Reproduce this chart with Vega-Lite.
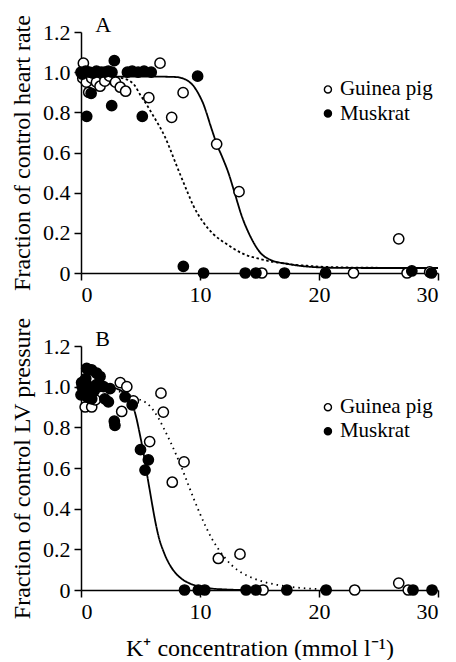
{
  "$schema": "https://vega.github.io/schema/vega-lite/v6.json",
  "padding": {"left": 10, "top": 14, "right": 0, "bottom": 0},
  "background": "white",
  "spacing": 73,
  "bounds": "flush",
  "config": {
    "view": {"stroke": null},
    "font": "Liberation Serif",
    "axis": {
      "grid": false,
      "domainColor": "black",
      "domainWidth": 1.5,
      "tickColor": "black",
      "tickWidth": 1.5,
      "tickSize": 7,
      "labelColor": "black",
      "labelFont": "Liberation Serif",
      "labelFontSize": 22,
      "labelPadding": 4,
      "titleColor": "black",
      "titleFont": "Liberation Serif",
      "titleFontSize": 24,
      "titleFontWeight": "normal"
    }
  },
  "resolve": {"scale": {"fill": "independent", "strokeDash": "independent"}},
  "datasets": {
    "a_pts": [
      {"species": "Guinea pig", "k": 0.2, "frac": 1.045},
      {"species": "Guinea pig", "k": 6.64, "frac": 1.045},
      {"species": "Guinea pig", "k": 0.15, "frac": 0.97},
      {"species": "Guinea pig", "k": 0.45, "frac": 0.95},
      {"species": "Guinea pig", "k": 0.9, "frac": 0.97},
      {"species": "Guinea pig", "k": 1.3, "frac": 0.95},
      {"species": "Guinea pig", "k": 1.6, "frac": 0.93},
      {"species": "Guinea pig", "k": 2.0, "frac": 0.955},
      {"species": "Guinea pig", "k": 2.4, "frac": 0.98},
      {"species": "Guinea pig", "k": 2.9, "frac": 0.95},
      {"species": "Guinea pig", "k": 3.3, "frac": 0.925},
      {"species": "Guinea pig", "k": 3.75, "frac": 0.905},
      {"species": "Guinea pig", "k": 0.65, "frac": 0.9},
      {"species": "Guinea pig", "k": 5.7, "frac": 0.873},
      {"species": "Guinea pig", "k": 8.58, "frac": 0.898},
      {"species": "Guinea pig", "k": 7.62, "frac": 0.775},
      {"species": "Guinea pig", "k": 11.4, "frac": 0.642},
      {"species": "Guinea pig", "k": 13.28, "frac": 0.405},
      {"species": "Guinea pig", "k": 15.2, "frac": 0.0},
      {"species": "Guinea pig", "k": 22.9, "frac": 0.0},
      {"species": "Guinea pig", "k": 26.7, "frac": 0.17},
      {"species": "Guinea pig", "k": 27.4, "frac": 0.0},
      {"species": "Guinea pig", "k": 29.3, "frac": 0.005},
      {"species": "Muskrat", "k": 0.0, "frac": 1.0},
      {"species": "Muskrat", "k": 0.1, "frac": 0.99},
      {"species": "Muskrat", "k": 0.4, "frac": 1.005},
      {"species": "Muskrat", "k": 0.7, "frac": 1.0},
      {"species": "Muskrat", "k": 1.0, "frac": 0.995},
      {"species": "Muskrat", "k": 1.3, "frac": 1.005},
      {"species": "Muskrat", "k": 1.7, "frac": 1.0},
      {"species": "Muskrat", "k": 2.0, "frac": 1.0},
      {"species": "Muskrat", "k": 2.3, "frac": 1.005},
      {"species": "Muskrat", "k": 2.6, "frac": 1.0},
      {"species": "Muskrat", "k": 3.9, "frac": 1.0},
      {"species": "Muskrat", "k": 4.3, "frac": 1.005},
      {"species": "Muskrat", "k": 4.8, "frac": 1.0},
      {"species": "Muskrat", "k": 5.3, "frac": 1.005},
      {"species": "Muskrat", "k": 5.9, "frac": 1.0},
      {"species": "Muskrat", "k": 2.8, "frac": 1.057},
      {"species": "Muskrat", "k": 9.8, "frac": 0.98},
      {"species": "Muskrat", "k": 0.85, "frac": 0.895},
      {"species": "Muskrat", "k": 2.58, "frac": 0.833},
      {"species": "Muskrat", "k": 0.48, "frac": 0.78},
      {"species": "Muskrat", "k": 5.15, "frac": 0.78},
      {"species": "Muskrat", "k": 8.6, "frac": 0.033},
      {"species": "Muskrat", "k": 10.3, "frac": 0.0},
      {"species": "Muskrat", "k": 13.8, "frac": 0.0},
      {"species": "Muskrat", "k": 14.7, "frac": 0.0},
      {"species": "Muskrat", "k": 17.1, "frac": 0.0},
      {"species": "Muskrat", "k": 20.55, "frac": 0.0},
      {"species": "Muskrat", "k": 27.8, "frac": 0.01},
      {"species": "Muskrat", "k": 29.45, "frac": 0.0}
    ],
    "a_curve": [
      {"fit": "Guinea pig", "k": 0, "frac": 0.978},
      {"fit": "Guinea pig", "k": 3, "frac": 0.978},
      {"fit": "Guinea pig", "k": 6, "frac": 0.978},
      {"fit": "Guinea pig", "k": 7.9, "frac": 0.976},
      {"fit": "Guinea pig", "k": 8.5, "frac": 0.97},
      {"fit": "Guinea pig", "k": 9.0, "frac": 0.956},
      {"fit": "Guinea pig", "k": 9.4, "frac": 0.935},
      {"fit": "Guinea pig", "k": 9.72, "frac": 0.908},
      {"fit": "Guinea pig", "k": 10.0, "frac": 0.878},
      {"fit": "Guinea pig", "k": 10.28, "frac": 0.842},
      {"fit": "Guinea pig", "k": 10.56, "frac": 0.795},
      {"fit": "Guinea pig", "k": 10.84, "frac": 0.742},
      {"fit": "Guinea pig", "k": 11.1, "frac": 0.695},
      {"fit": "Guinea pig", "k": 11.4, "frac": 0.642},
      {"fit": "Guinea pig", "k": 11.82, "frac": 0.584},
      {"fit": "Guinea pig", "k": 12.38, "frac": 0.5},
      {"fit": "Guinea pig", "k": 12.94, "frac": 0.393},
      {"fit": "Guinea pig", "k": 13.5, "frac": 0.285},
      {"fit": "Guinea pig", "k": 14.2, "frac": 0.186},
      {"fit": "Guinea pig", "k": 15.04, "frac": 0.103},
      {"fit": "Guinea pig", "k": 15.9, "frac": 0.066},
      {"fit": "Guinea pig", "k": 17.4, "frac": 0.045},
      {"fit": "Guinea pig", "k": 18.5, "frac": 0.035},
      {"fit": "Guinea pig", "k": 19.7, "frac": 0.029},
      {"fit": "Guinea pig", "k": 21, "frac": 0.026},
      {"fit": "Guinea pig", "k": 24, "frac": 0.025},
      {"fit": "Guinea pig", "k": 30, "frac": 0.025},
      {"fit": "Muskrat", "k": 0, "frac": 0.98},
      {"fit": "Muskrat", "k": 2, "frac": 0.98},
      {"fit": "Muskrat", "k": 3, "frac": 0.975},
      {"fit": "Muskrat", "k": 3.6, "frac": 0.968},
      {"fit": "Muskrat", "k": 4.0, "frac": 0.96},
      {"fit": "Muskrat", "k": 4.5, "frac": 0.935},
      {"fit": "Muskrat", "k": 5.0, "frac": 0.885},
      {"fit": "Muskrat", "k": 5.5, "frac": 0.84},
      {"fit": "Muskrat", "k": 6.0, "frac": 0.79},
      {"fit": "Muskrat", "k": 6.5, "frac": 0.74},
      {"fit": "Muskrat", "k": 7.0, "frac": 0.685},
      {"fit": "Muskrat", "k": 7.5, "frac": 0.615},
      {"fit": "Muskrat", "k": 8.0, "frac": 0.54},
      {"fit": "Muskrat", "k": 8.6, "frac": 0.452},
      {"fit": "Muskrat", "k": 9.0, "frac": 0.395},
      {"fit": "Muskrat", "k": 9.44, "frac": 0.335},
      {"fit": "Muskrat", "k": 10.28, "frac": 0.252},
      {"fit": "Muskrat", "k": 11.12, "frac": 0.194},
      {"fit": "Muskrat", "k": 12.24, "frac": 0.144},
      {"fit": "Muskrat", "k": 13.64, "frac": 0.095},
      {"fit": "Muskrat", "k": 15.04, "frac": 0.07},
      {"fit": "Muskrat", "k": 15.9, "frac": 0.058},
      {"fit": "Muskrat", "k": 17, "frac": 0.048},
      {"fit": "Muskrat", "k": 18, "frac": 0.041},
      {"fit": "Muskrat", "k": 19, "frac": 0.036},
      {"fit": "Muskrat", "k": 20, "frac": 0.032},
      {"fit": "Muskrat", "k": 22, "frac": 0.028},
      {"fit": "Muskrat", "k": 25, "frac": 0.026},
      {"fit": "Muskrat", "k": 30, "frac": 0.025}
    ],
    "b_pts": [
      {"species": "Guinea pig", "k": 0.35, "frac": 0.9},
      {"species": "Guinea pig", "k": 0.9, "frac": 0.9},
      {"species": "Guinea pig", "k": 1.2, "frac": 0.935},
      {"species": "Guinea pig", "k": 0.2, "frac": 0.98},
      {"species": "Guinea pig", "k": 1.5, "frac": 1.0},
      {"species": "Guinea pig", "k": 3.3, "frac": 1.02},
      {"species": "Guinea pig", "k": 3.85, "frac": 1.0},
      {"species": "Guinea pig", "k": 4.4, "frac": 0.93},
      {"species": "Guinea pig", "k": 3.42, "frac": 0.878},
      {"species": "Guinea pig", "k": 6.72, "frac": 0.968},
      {"species": "Guinea pig", "k": 6.92, "frac": 0.875},
      {"species": "Guinea pig", "k": 5.77, "frac": 0.73},
      {"species": "Guinea pig", "k": 8.66, "frac": 0.63},
      {"species": "Guinea pig", "k": 7.67, "frac": 0.53},
      {"species": "Guinea pig", "k": 11.54, "frac": 0.155},
      {"species": "Guinea pig", "k": 13.36, "frac": 0.176},
      {"species": "Guinea pig", "k": 15.3, "frac": 0.0},
      {"species": "Guinea pig", "k": 23.0, "frac": 0.0},
      {"species": "Guinea pig", "k": 26.7, "frac": 0.034},
      {"species": "Guinea pig", "k": 27.5, "frac": 0.0},
      {"species": "Muskrat", "k": 0.48, "frac": 1.09},
      {"species": "Muskrat", "k": 0.9, "frac": 1.082},
      {"species": "Muskrat", "k": 1.32, "frac": 1.066},
      {"species": "Muskrat", "k": 1.6, "frac": 1.05},
      {"species": "Muskrat", "k": 0.1, "frac": 1.0},
      {"species": "Muskrat", "k": 0.2, "frac": 0.97},
      {"species": "Muskrat", "k": 0.3, "frac": 1.03},
      {"species": "Muskrat", "k": 0.5, "frac": 0.95},
      {"species": "Muskrat", "k": 0.7, "frac": 1.0},
      {"species": "Muskrat", "k": 0.9, "frac": 0.94},
      {"species": "Muskrat", "k": 1.1, "frac": 0.98},
      {"species": "Muskrat", "k": 1.3, "frac": 1.01},
      {"species": "Muskrat", "k": 0.4, "frac": 1.04},
      {"species": "Muskrat", "k": 0.0, "frac": 0.96},
      {"species": "Muskrat", "k": 0.05, "frac": 1.02},
      {"species": "Muskrat", "k": 1.9, "frac": 1.0},
      {"species": "Muskrat", "k": 2.44, "frac": 0.99},
      {"species": "Muskrat", "k": 2.0, "frac": 0.94},
      {"species": "Muskrat", "k": 2.3, "frac": 0.925},
      {"species": "Muskrat", "k": 3.7, "frac": 0.95},
      {"species": "Muskrat", "k": 4.3, "frac": 0.91},
      {"species": "Muskrat", "k": 2.8, "frac": 0.83},
      {"species": "Muskrat", "k": 2.85, "frac": 0.81},
      {"species": "Muskrat", "k": 5.0, "frac": 0.69},
      {"species": "Muskrat", "k": 5.38, "frac": 0.59},
      {"species": "Muskrat", "k": 5.66, "frac": 0.64},
      {"species": "Muskrat", "k": 8.7, "frac": 0.0},
      {"species": "Muskrat", "k": 9.86, "frac": 0.0},
      {"species": "Muskrat", "k": 10.4, "frac": 0.0},
      {"species": "Muskrat", "k": 13.87, "frac": 0.0},
      {"species": "Muskrat", "k": 14.7, "frac": 0.0},
      {"species": "Muskrat", "k": 17.3, "frac": 0.0},
      {"species": "Muskrat", "k": 20.6, "frac": 0.0},
      {"species": "Muskrat", "k": 27.9, "frac": 0.0},
      {"species": "Muskrat", "k": 29.5, "frac": 0.0}
    ],
    "b_curve": [
      {"fit": "Muskrat", "k": 0, "frac": 1.0},
      {"fit": "Muskrat", "k": 1, "frac": 1.0},
      {"fit": "Muskrat", "k": 2, "frac": 0.998},
      {"fit": "Muskrat", "k": 2.5, "frac": 0.995},
      {"fit": "Muskrat", "k": 3, "frac": 0.99},
      {"fit": "Muskrat", "k": 3.5, "frac": 0.975},
      {"fit": "Muskrat", "k": 4, "frac": 0.945},
      {"fit": "Muskrat", "k": 4.5, "frac": 0.88},
      {"fit": "Muskrat", "k": 5, "frac": 0.75},
      {"fit": "Muskrat", "k": 5.25, "frac": 0.675},
      {"fit": "Muskrat", "k": 5.5, "frac": 0.585},
      {"fit": "Muskrat", "k": 5.75, "frac": 0.5},
      {"fit": "Muskrat", "k": 6, "frac": 0.415},
      {"fit": "Muskrat", "k": 6.25, "frac": 0.335},
      {"fit": "Muskrat", "k": 6.5, "frac": 0.268},
      {"fit": "Muskrat", "k": 7, "frac": 0.18},
      {"fit": "Muskrat", "k": 7.5, "frac": 0.12},
      {"fit": "Muskrat", "k": 8, "frac": 0.08},
      {"fit": "Muskrat", "k": 8.5, "frac": 0.053},
      {"fit": "Muskrat", "k": 9, "frac": 0.036},
      {"fit": "Muskrat", "k": 9.5, "frac": 0.024},
      {"fit": "Muskrat", "k": 10, "frac": 0.016},
      {"fit": "Muskrat", "k": 11, "frac": 0.007},
      {"fit": "Muskrat", "k": 12, "frac": 0.003},
      {"fit": "Muskrat", "k": 14, "frac": 0.0},
      {"fit": "Guinea pig", "k": 0, "frac": 1.0},
      {"fit": "Guinea pig", "k": 1, "frac": 1.0},
      {"fit": "Guinea pig", "k": 2, "frac": 0.995},
      {"fit": "Guinea pig", "k": 3, "frac": 0.98},
      {"fit": "Guinea pig", "k": 4, "frac": 0.96},
      {"fit": "Guinea pig", "k": 4.8, "frac": 0.94},
      {"fit": "Guinea pig", "k": 5.6, "frac": 0.915},
      {"fit": "Guinea pig", "k": 6.05, "frac": 0.886},
      {"fit": "Guinea pig", "k": 6.5, "frac": 0.846},
      {"fit": "Guinea pig", "k": 7, "frac": 0.79},
      {"fit": "Guinea pig", "k": 7.5, "frac": 0.73},
      {"fit": "Guinea pig", "k": 8, "frac": 0.665},
      {"fit": "Guinea pig", "k": 8.5, "frac": 0.595},
      {"fit": "Guinea pig", "k": 9, "frac": 0.52},
      {"fit": "Guinea pig", "k": 9.5, "frac": 0.445},
      {"fit": "Guinea pig", "k": 10, "frac": 0.375},
      {"fit": "Guinea pig", "k": 10.5, "frac": 0.31},
      {"fit": "Guinea pig", "k": 11, "frac": 0.252},
      {"fit": "Guinea pig", "k": 11.5, "frac": 0.205},
      {"fit": "Guinea pig", "k": 12, "frac": 0.165},
      {"fit": "Guinea pig", "k": 12.66, "frac": 0.122},
      {"fit": "Guinea pig", "k": 13.5, "frac": 0.085},
      {"fit": "Guinea pig", "k": 14.6, "frac": 0.055},
      {"fit": "Guinea pig", "k": 15.5, "frac": 0.038},
      {"fit": "Guinea pig", "k": 16.5, "frac": 0.025},
      {"fit": "Guinea pig", "k": 17.5, "frac": 0.016},
      {"fit": "Guinea pig", "k": 18.5, "frac": 0.01},
      {"fit": "Guinea pig", "k": 19.5, "frac": 0.006},
      {"fit": "Guinea pig", "k": 21, "frac": 0.002}
    ],
    "a_key": [
      {"species": "Guinea pig", "k": 20.75, "frac": 0.914},
      {"species": "Muskrat", "k": 20.75, "frac": 0.794}
    ],
    "b_key": [
      {"species": "Guinea pig", "k": 20.75, "frac": 0.899},
      {"species": "Muskrat", "k": 20.75, "frac": 0.781}
    ],
    "labels_a": [{"label": "A", "k": 1.2, "frac": 1.2}],
    "labels_b": [{"label": "B", "k": 1.2, "frac": 1.2}]
  },
  "vconcat": [
    {
      "width": 357,
      "height": 241,
      "layer": [
        {
          "data": {"name": "a_curve"},
          "mark": {"type": "line", "color": "black", "strokeWidth": 1.8, "interpolate": "monotone"},
          "encoding": {
            "x": {"field": "k", "type": "quantitative", "scale": {"domain": [0, 30], "nice": false},
                  "axis": {"values": [0, 10, 20, 30], "title": null}},
            "y": {"field": "frac", "type": "quantitative", "scale": {"domain": [0, 1.2], "nice": false},
                  "axis": {"values": [0, 0.2, 0.4, 0.6, 0.8, 1.0, 1.2],
                           "labelExpr": "datum.value == 0 ? '0' : format(datum.value, '.1f')",
                           "title": "Fraction of control heart rate", "titlePadding": 8}},
            "strokeDash": {"field": "fit", "type": "nominal",
                           "scale": {"domain": ["Guinea pig", "Muskrat"], "range": [[1, 0], [2.5, 2.5]]},
                           "legend": null}
          }
        },
        {
          "data": {"name": "a_pts"},
          "mark": {"type": "point", "filled": true, "size": 105, "stroke": "black", "strokeWidth": 1.5, "opacity": 1},
          "encoding": {
            "x": {"field": "k", "type": "quantitative"},
            "y": {"field": "frac", "type": "quantitative"},
            "fill": {"field": "species", "type": "nominal",
                     "scale": {"domain": ["Guinea pig", "Muskrat"], "range": ["white", "black"]},
                     "legend": null}
          }
        },
        {
          "data": {"name": "a_key"},
          "mark": {"type": "point", "filled": true, "size": 50, "stroke": "black", "strokeWidth": 1.4, "opacity": 1},
          "encoding": {
            "x": {"field": "k", "type": "quantitative"},
            "y": {"field": "frac", "type": "quantitative"},
            "fill": {"field": "species", "type": "nominal", "legend": null}
          }
        },
        {
          "data": {"name": "a_key"},
          "mark": {"type": "text", "align": "left", "baseline": "middle", "dx": 12, "fontSize": 21, "font": "Liberation Serif", "color": "black"},
          "encoding": {
            "x": {"field": "k", "type": "quantitative"},
            "y": {"field": "frac", "type": "quantitative"},
            "text": {"field": "species"}
          }
        },
        {
          "data": {"name": "labels_a"},
          "mark": {"type": "text", "align": "left", "baseline": "alphabetic", "fontSize": 22, "font": "Liberation Serif", "color": "black"},
          "encoding": {
            "x": {"field": "k", "type": "quantitative"},
            "y": {"field": "frac", "type": "quantitative"},
            "text": {"field": "label"}
          }
        }
      ]
    },
    {
      "width": 357,
      "height": 244,
      "layer": [
        {
          "data": {"name": "b_curve"},
          "mark": {"type": "line", "color": "black", "strokeWidth": 1.8, "interpolate": "monotone"},
          "encoding": {
            "x": {"field": "k", "type": "quantitative", "scale": {"domain": [0, 30], "nice": false},
                  "axis": {"values": [0, 10, 20, 30], "title": "K⁺ concentration (mmol l⁻¹)", "titlePadding": 14}},
            "y": {"field": "frac", "type": "quantitative", "scale": {"domain": [0, 1.2], "nice": false},
                  "axis": {"values": [0, 0.2, 0.4, 0.6, 0.8, 1.0, 1.2],
                           "labelExpr": "datum.value == 0 ? '0' : format(datum.value, '.1f')",
                           "title": "Fraction of control LV pressure", "titlePadding": 8}},
            "strokeDash": {"field": "fit", "type": "nominal",
                           "scale": {"domain": ["Guinea pig", "Muskrat"], "range": [[1.5, 4], [1, 0]]},
                           "legend": null}
          }
        },
        {
          "data": {"name": "b_pts"},
          "mark": {"type": "point", "filled": true, "size": 105, "stroke": "black", "strokeWidth": 1.5, "opacity": 1},
          "encoding": {
            "x": {"field": "k", "type": "quantitative"},
            "y": {"field": "frac", "type": "quantitative"},
            "fill": {"field": "species", "type": "nominal",
                     "scale": {"domain": ["Guinea pig", "Muskrat"], "range": ["white", "black"]},
                     "legend": null}
          }
        },
        {
          "data": {"name": "b_key"},
          "mark": {"type": "point", "filled": true, "size": 50, "stroke": "black", "strokeWidth": 1.4, "opacity": 1},
          "encoding": {
            "x": {"field": "k", "type": "quantitative"},
            "y": {"field": "frac", "type": "quantitative"},
            "fill": {"field": "species", "type": "nominal", "legend": null}
          }
        },
        {
          "data": {"name": "b_key"},
          "mark": {"type": "text", "align": "left", "baseline": "middle", "dx": 12, "fontSize": 21, "font": "Liberation Serif", "color": "black"},
          "encoding": {
            "x": {"field": "k", "type": "quantitative"},
            "y": {"field": "frac", "type": "quantitative"},
            "text": {"field": "species"}
          }
        },
        {
          "data": {"name": "labels_b"},
          "mark": {"type": "text", "align": "left", "baseline": "alphabetic", "fontSize": 22, "font": "Liberation Serif", "color": "black"},
          "encoding": {
            "x": {"field": "k", "type": "quantitative"},
            "y": {"field": "frac", "type": "quantitative"},
            "text": {"field": "label"}
          }
        }
      ]
    }
  ]
}
